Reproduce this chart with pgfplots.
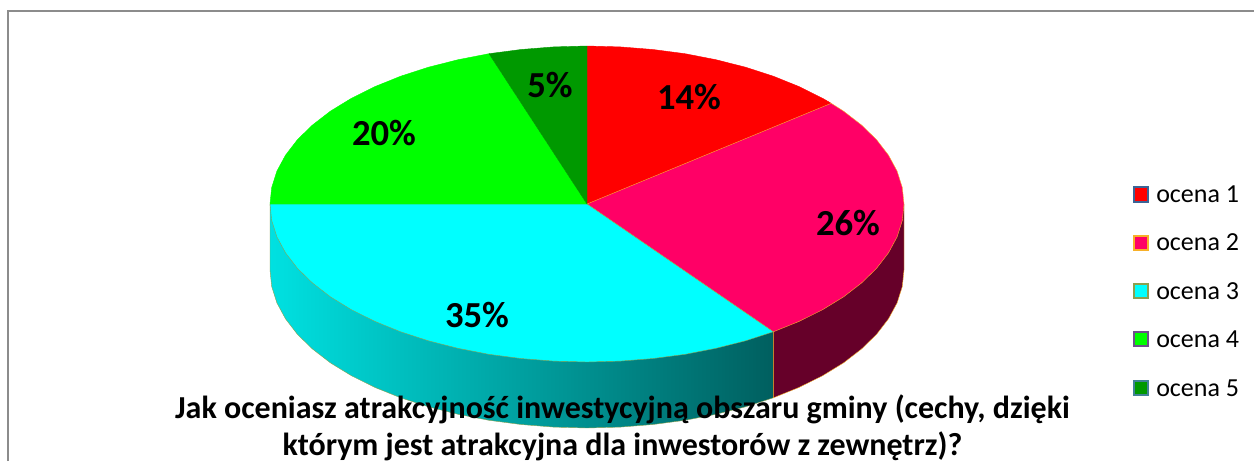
\documentclass[border=0pt]{standalone}
\usepackage{fontspec}
\setmainfont{Carlito}
\usepackage{pgfplots}
\pgfplotsset{compat=1.18}
\definecolor{sl1}{RGB}{255,0,0}
\definecolor{sl2}{RGB}{255,0,102}
\definecolor{sl3}{RGB}{0,255,255}
\definecolor{sl4}{RGB}{0,255,0}
\definecolor{sl5}{RGB}{0,153,0}
\definecolor{side2}{RGB}{102,0,41}
\definecolor{edge1}{RGB}{60,100,150}
\definecolor{edge2}{RGB}{247,176,40}
\definecolor{edge3}{RGB}{140,160,80}
\definecolor{edge4}{RGB}{110,80,140}
\definecolor{edge5}{RGB}{65,130,150}
\begin{document}
\begin{tikzpicture}
\useasboundingbox (0,0) rectangle (940.5pt,345.75pt);
\begin{axis}[
    scale only axis,
    width=940.5pt, height=345.75pt,
    xmin=0, xmax=1254, ymin=0, ymax=461,
    y dir=reverse,
    hide axis,
    clip=true,
]
% frame
\addplot[gray!90, line width=1.4pt] coordinates {(8,461) (8,11) (1254,11)};
% sides, bottom arc 66 px under the top ellipse
\addplot[draw=edge3, line width=0.3pt, left color={rgb,255:red,0;green,225;blue,225}, right color={rgb,255:red,0;green,95;blue,95}] coordinates {
(270,204) (270,270) (271.7,286.5) (276.9,302.9) (285.5,318.8) (297.4,334.3) (312.5,349) (330.5,362.9) (351.4,375.7) (374.9,387.4) (400.7,397.8) (428.5,406.8) (458.1,414.3) (489,420.3) (521.1,424.5) (553.9,427.1) (587,428) (620.1,427.1) (652.9,424.5) (685,420.3) (715.9,414.3) (745.5,406.8) (773.3,397.8) (773.3,331.8) (270,204)};
\addplot[draw=edge2, line width=0.3pt, fill=side2] coordinates {
(773.3,331.8) (773.3,397.8) (799.1,387.4) (822.6,375.7) (843.5,362.9) (861.5,349) (876.6,334.3) (888.5,318.8) (897.1,302.9) (902.3,286.5) (904,270) (904,204) (773.3,331.8)};
% top face, ocena 1
\addplot[draw=sl1, line width=0.3pt, fill=sl1] coordinates {
(587,204) (587,46) (620.1,46.9) (652.9,49.5) (685,53.7) (715.9,59.7) (745.5,67.2) (773.3,76.2) (799.1,86.6) (822.6,98.3) (831.2,103.3) (587,204)};
% ocena 2
\addplot[draw=edge2, line width=0.3pt, fill=sl2] coordinates {
(587,204) (831.2,103.3) (843.5,111.1) (861.5,125) (876.6,139.7) (888.5,155.2) (897.1,171.1) (902.3,187.5) (904,204) (902.3,220.5) (897.1,236.9) (888.5,252.8) (876.6,268.3) (861.5,283) (843.5,296.9) (822.6,309.7) (799.1,321.4) (773.3,331.8) (587,204)};
% ocena 3
\addplot[draw=edge3, line width=0.3pt, fill=sl3] coordinates {
(587,204) (773.3,331.8) (745.5,340.8) (715.9,348.3) (685,354.3) (652.9,358.5) (620.1,361.1) (587,362) (553.9,361.1) (521.1,358.5) (489,354.3) (458.1,348.3) (428.5,340.8) (400.7,331.8) (374.9,321.4) (351.4,309.7) (330.5,296.9) (312.5,283) (297.4,268.3) (285.5,252.8) (276.9,236.9) (271.7,220.5) (270,204) (587,204)};
% ocena 4
\addplot[draw=sl4, line width=0.3pt, fill=sl4] coordinates {
(587,204) (270,204) (271.7,187.5) (276.9,171.1) (285.5,155.2) (297.4,139.7) (312.5,125) (330.5,111.1) (351.4,98.3) (374.9,86.6) (400.7,76.2) (428.5,67.2) (458.1,59.7) (489,53.7) (587,204)};
% ocena 5
\addplot[draw=sl5, line width=0.3pt, fill=sl5] coordinates {
(587,204) (489,53.7) (521.1,49.5) (553.9,46.9) (587,46) (587,204)};
% legend keys
\addplot[only marks, mark=square*, mark size=5.4pt, mark options={fill=sl1, draw=edge1, line width=1.6pt}] coordinates {(1141,194.5)};
\addplot[only marks, mark=square*, mark size=5.4pt, mark options={fill=sl2, draw=edge2, line width=1.6pt}] coordinates {(1141,243)};
\addplot[only marks, mark=square*, mark size=5.4pt, mark options={fill=sl3, draw=edge3, line width=1.6pt}] coordinates {(1141,291)};
\addplot[only marks, mark=square*, mark size=5.4pt, mark options={fill=sl4, draw=edge4, line width=1.6pt}] coordinates {(1141,339)};
\addplot[only marks, mark=square*, mark size=5.4pt, mark options={fill=sl5, draw=edge5, line width=1.6pt}] coordinates {(1141,388)};
\node[anchor=west, inner sep=0pt, font=\fontsize{19.5}{23}\selectfont] at (axis cs:1156,194) {ocena 1};
\node[anchor=west, inner sep=0pt, font=\fontsize{19.5}{23}\selectfont] at (axis cs:1156,242.5) {ocena 2};
\node[anchor=west, inner sep=0pt, font=\fontsize{19.5}{23}\selectfont] at (axis cs:1156,291) {ocena 3};
\node[anchor=west, inner sep=0pt, font=\fontsize{19.5}{23}\selectfont] at (axis cs:1156,339) {ocena 4};
\node[anchor=west, inner sep=0pt, font=\fontsize{19.5}{23}\selectfont] at (axis cs:1156,388) {ocena 5};
% slice labels
\node[font=\fontsize{27.5}{32}\selectfont\bfseries] at (axis cs:689,97) {14\%};
\node[font=\fontsize{27.5}{32}\selectfont\bfseries] at (axis cs:848,223) {26\%};
\node[font=\fontsize{27.5}{32}\selectfont\bfseries] at (axis cs:477,315) {35\%};
\node[font=\fontsize{27.5}{32}\selectfont\bfseries] at (axis cs:384,133) {20\%};
\node[font=\fontsize{27.5}{32}\selectfont\bfseries] at (axis cs:550,85) {5\%};
% title
\node[font=\fontsize{24}{27.5}\selectfont\bfseries, align=center, inner sep=0pt] at (axis cs:622.5,428) {Jak oceniasz atrakcyjność inwestycyjną obszaru gminy (cechy, dzięki\\którym jest atrakcyjna dla inwestorów z zewnętrz)?};
\end{axis}
\end{tikzpicture}
\end{document}
